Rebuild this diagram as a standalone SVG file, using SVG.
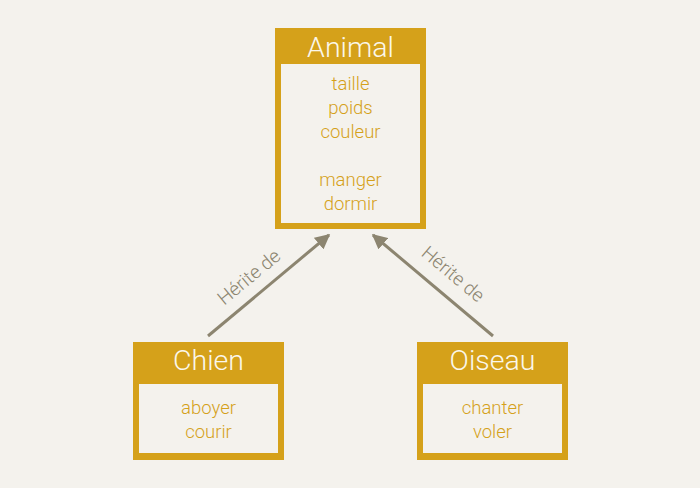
<svg xmlns="http://www.w3.org/2000/svg" width="700" height="488" viewBox="0 0 700 488">
<style>
.outer{fill:#d5a11a}
.inner{fill:#f4f2ed}
.title{font-family:Roboto,"Liberation Sans",sans-serif;font-weight:300;font-size:28.5px;fill:#fbf7ea;text-anchor:middle}
.attr{font-family:Roboto,"Liberation Sans",sans-serif;font-weight:300;font-size:18.5px;fill:#d5a11a;text-anchor:middle}
.lbl{font-family:Roboto,"Liberation Sans",sans-serif;font-weight:300;font-size:19px;fill:#8c8570;text-anchor:middle}
.edge{stroke:#8c8570;stroke-width:3;fill:none}
</style>
<defs>
<marker id="ah" viewBox="0 0 10 10" refX="9" refY="5" markerWidth="5" markerHeight="5" markerUnits="strokeWidth" orient="auto">
<path d="M0,0 L10,5 L0,10 z" fill="#8c8570"/>
</marker>
</defs>
<rect width="700" height="488" fill="#f4f2ed"/>
<g id="connectors">
<line class="edge" x1="208" y1="336" x2="329" y2="235" marker-end="url(#ah)"/>
<line class="edge" x1="493" y1="336" x2="373" y2="235" marker-end="url(#ah)"/>
<text class="lbl" transform="translate(253,282) rotate(-39.6)">Hérite de</text>
<text class="lbl" transform="translate(449,279) rotate(40)">Hérite de</text>
</g>
<g id="animal">
<rect class="outer" x="275" y="28" width="151" height="201"/>
<rect class="inner" x="281" y="64" width="139" height="159"/>
<text class="title" x="350.5" y="57">Animal</text>
<text class="attr" x="350.5" y="90">taille</text>
<text class="attr" x="350.5" y="114">poids</text>
<text class="attr" x="350.5" y="138">couleur</text>
<text class="attr" x="350.5" y="186">manger</text>
<text class="attr" x="350.5" y="210">dormir</text>
</g>
<g id="chien">
<rect class="outer" x="133" y="342" width="151" height="118"/>
<rect class="inner" x="139" y="384" width="139" height="69"/>
<text class="title" x="208.5" y="370">Chien</text>
<text class="attr" x="208.5" y="414">aboyer</text>
<text class="attr" x="208.5" y="438">courir</text>
</g>
<g id="oiseau">
<rect class="outer" x="417" y="342" width="151" height="118"/>
<rect class="inner" x="423" y="384" width="139" height="69"/>
<text class="title" x="492.5" y="370">Oiseau</text>
<text class="attr" x="492.5" y="414">chanter</text>
<text class="attr" x="492.5" y="438">voler</text>
</g>
</svg>
